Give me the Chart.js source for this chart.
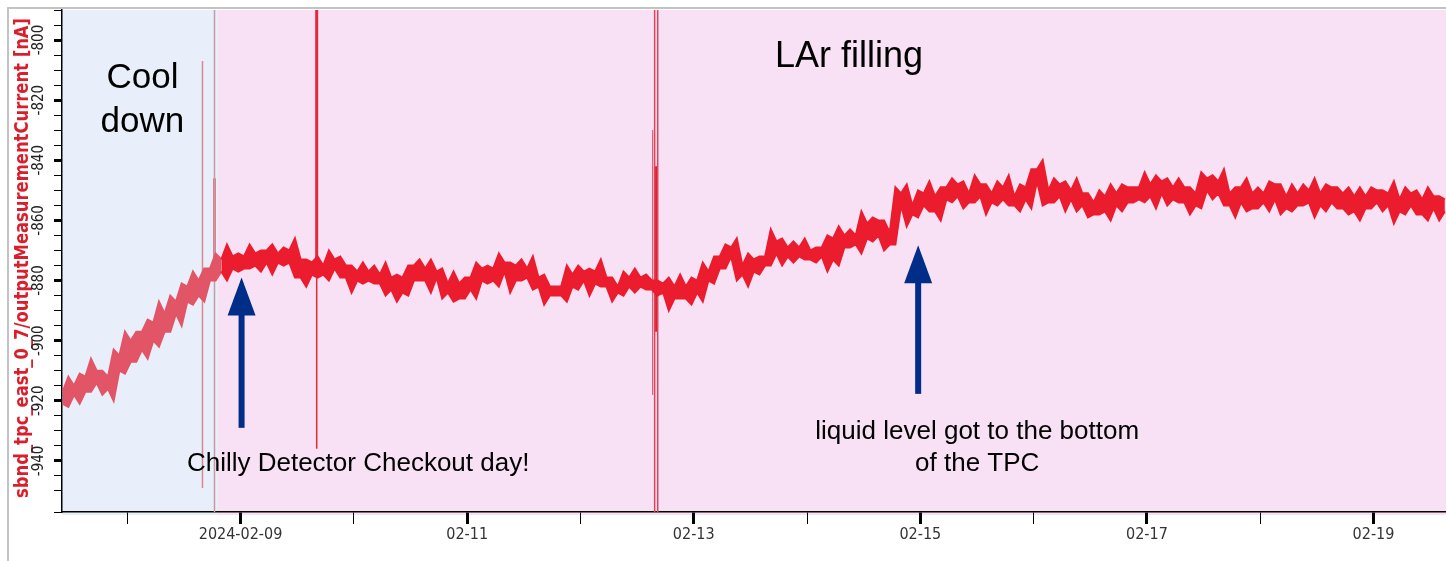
<!DOCTYPE html>
<html>
<head>
<meta charset="utf-8">
<script src="https://cdn.jsdelivr.net/npm/chart.js@4.4.1/dist/chart.umd.min.js"></script>
<style>
  html, body { margin: 0; padding: 0; background: #fff; }
  #wrap { width: 1446px; height: 561px; position: relative; }
</style>
</head>
<body>
<div id="wrap"><canvas id="chart"></canvas></div>
<script>
// x is in days since 2024-02-07 00:00; trace read every 0.05 day
const firstDay = 0.43, halfStep = 0.05;
const coolEnd = 14;          // sample where LAr filling starts
const coolDownEnd = 1.80;    // day where the cool-down shading ends

// solid core of the noisy trace at each sample [nA]
const coreHigh = [
  -917, -915, -912, -910, -912, -905, -900, -897, -894, -891, -887, -882, -880, -876,
  -873, -872, -872, -871, -870, -871, -870, -873, -874, -875, -873, -875, -877, -877,
  -878, -879, -879, -875, -876, -877, -881, -881, -879, -876, -876, -874, -875, -876,
  -879, -882, -882, -878, -877, -877, -879, -882, -879, -879, -880, -881, -882, -882,
  -880, -877, -872, -869, -875, -873, -872, -867, -869, -869, -870, -869, -866, -865,
  -865, -861, -860, -864, -851, -855, -851, -852, -849, -848, -851, -848, -851, -849,
  -852, -849, -843, -850, -848, -850, -851, -854, -852, -851, -849, -849, -848, -847,
  -849, -849, -851, -846, -847, -851, -849, -851, -851, -848, -852, -851, -850, -851,
  -849, -851, -852, -852, -850, -851, -853, -851, -853, -852, -853
];
const coreLow = [
  -921, -918, -917, -914, -916, -910, -907, -903, -900, -897, -891, -887, -885, -880,
  -877, -876, -876, -875, -874, -874, -874, -879, -878, -878, -876, -879, -880, -880,
  -881, -883, -884, -880, -880, -879, -884, -886, -883, -880, -880, -877, -880, -879,
  -882, -885, -885, -882, -880, -881, -882, -884, -882, -882, -883, -884, -886, -886,
  -884, -880, -876, -872, -878, -877, -875, -871, -872, -872, -873, -872, -873, -869,
  -868, -866, -865, -868, -855, -858, -855, -857, -853, -852, -854, -852, -854, -853,
  -855, -853, -847, -854, -852, -853, -855, -858, -857, -855, -854, -853, -852, -851,
  -853, -854, -855, -850, -851, -855, -854, -856, -854, -853, -856, -855, -854, -855,
  -854, -856, -857, -856, -854, -855, -857, -855, -858, -856, -857
];
// noise spikes between samples (upper and lower tips)
const tipHigh = [
  -912, -911, -906, -910, -903, -897, -897, -893, -887, -885, -881, -877, -876, -871,
  -868, -871, -868, -870, -868, -869, -866, -873, -872, -870, -872, -875, -874, -875,
  -874, -878, -875, -873, -873, -876, -877, -879, -874, -875, -871, -874, -873, -872,
  -878, -882, -875, -875, -876, -873, -879, -877, -876, -878, -880, -879, -878, -879,
  -874, -872, -868, -866, -871, -872, -863, -866, -867, -866, -869, -865, -862, -863,
  -857, -859, -860, -849, -848, -850, -847, -849, -846, -847, -845, -848, -847, -845,
  -848, -843, -840, -846, -847, -846, -851, -850, -848, -848, -849, -844, -845, -846,
  -846, -849, -844, -845, -843, -849, -846, -849, -847, -848, -848, -848, -846, -848,
  -849, -849, -849, -849, -850, -847, -849, -850, -849, -852
];
const tipLow = [
  -922, -921, -917, -918, -920, -911, -907, -906, -902, -897, -895, -888, -887, -880,
  -880, -877, -876, -877, -878, -875, -879, -882, -879, -880, -879, -884, -881, -881,
  -885, -887, -885, -880, -884, -886, -887, -886, -886, -881, -882, -884, -880, -883,
  -888, -885, -887, -883, -885, -882, -887, -885, -884, -883, -885, -890, -886, -888,
  -887, -881, -876, -880, -882, -878, -875, -875, -874, -873, -874, -877, -875, -869,
  -871, -867, -870, -868, -862, -859, -857, -860, -854, -856, -854, -858, -855, -855,
  -857, -856, -855, -854, -857, -857, -859, -858, -860, -857, -854, -854, -856, -855,
  -854, -858, -856, -853, -855, -859, -857, -856, -857, -858, -857, -855, -859, -857,
  -856, -858, -860, -856, -857, -861, -858, -858, -860, -860
];

// short glitches: day, top value, bottom value
const spikeDays = [1.664, 1.770, 1.770, 2.672, 2.672, 5.637, 5.655, 5.682, 5.668];
const spikeHigh = [-807, -790, -846, -790, -878, -830, -790, -790, -842];
const spikeLow  = [-949, -957, -880, -878, -936, -918, -957, -957, -897];
const spikeLook = [
  ['#d98791', 1.5], ['#c99aa3', 1.5], ['#e15566', 2.5], ['#e3293b', 3], ['#e3293b', 1.5],
  ['#e4606d', 1], ['#d8485a', 1.5], ['#d8485a', 1.5], ['#eb1c2d', 3]
];

// x ticks (even days labelled)
const xTickDays = [2, 4, 6, 8, 10, 12];
const xTickLabels = ['2024-02-09', '02-11', '02-13', '02-15', '02-17', '02-19'];

// annotations
const arrowDays = [2.009, 7.981];
const arrowTip  = [-879, -868.3];
const arrowTail = [-929, -917.7];
const notes = [
  { lines: ['Cool', 'down'], day: 1.134, values: [-816, -830.7], size: 35 },
  { lines: ['LAr filling'], day: 7.371, values: [-809], size: 36 },
  { lines: ['Chilly Detector Checkout day!'], day: 3.038, values: [-943.3], size: 26 },
  { lines: ['liquid level got to the bottom', 'of the TPC'], day: 8.502, values: [-932.7, -943.3], size: 26 }
];

// weave samples and tips into one edge each
function weave(core, tips) {
  const out = [];
  core.forEach((v, i) => {
    out.push({ x: +(firstDay + 2 * i * halfStep).toFixed(3), y: v });
    if (i < tips.length) out.push({ x: +(firstDay + (2 * i + 1) * halfStep).toFixed(3), y: tips[i] });
  });
  return out;
}
const upperEdge = weave(coreHigh, tipHigh);
const lowerEdge = weave(coreLow, tipLow);
const cut = coolEnd * 2;

const COOL = '#e15566', FILL = '#eb1c2d';
const edge = (data, color, fill) => ({
  data, borderColor: color, backgroundColor: color, borderWidth: 2,
  pointRadius: 0, tension: 0, fill
});

const datasets = [
  edge(upperEdge.slice(cut), FILL, '+1'),
  edge(lowerEdge.slice(cut), FILL, false),
  edge(upperEdge.slice(0, cut + 1), COOL, '+1'),
  edge(lowerEdge.slice(0, cut + 1), COOL, false)
];
spikeDays.forEach((d, i) => {
  datasets.push({
    data: [{ x: d, y: spikeHigh[i] }, { x: d, y: spikeLow[i] }],
    borderColor: spikeLook[i][0], borderWidth: spikeLook[i][1],
    pointRadius: 0, fill: false
  });
});

const decor = {
  id: 'decor',
  beforeDraw(chart) {
    const { ctx, chartArea: a, scales: { x } } = chart;
    const split = x.getPixelForValue(coolDownEnd);
    ctx.save();
    ctx.fillStyle = '#e8eefa';
    ctx.fillRect(a.left, a.top, split - a.left, a.bottom - a.top + 3);
    ctx.fillStyle = '#f9e1f5';
    ctx.fillRect(split, a.top, a.right - split, a.bottom - a.top + 3);
    // outer frame
    ctx.strokeStyle = '#c3c3c3';
    ctx.lineWidth = 2;
    ctx.beginPath();
    ctx.moveTo(8, chart.height); ctx.lineTo(8, 8); ctx.lineTo(chart.width, 8);
    ctx.stroke();
    // y title, rotated and fitted to the axis
    const title = 'sbnd_tpc_east_0_7/outputMeasurementCurrent [nA]';
    ctx.font = 'bold 19px "DejaVu Sans Condensed", "DejaVu Sans", sans-serif';
    const s = 480 / ctx.measureText(title).width;
    ctx.translate(28, 258);
    ctx.rotate(-Math.PI / 2);
    ctx.scale(s, 1);
    ctx.fillStyle = '#d91f2b';
    ctx.textAlign = 'center';
    ctx.textBaseline = 'alphabetic';
    ctx.fillText(title, 0, 0);
    ctx.restore();
  },
  afterDatasetsDraw(chart) {
    const { ctx, scales: { x, y } } = chart;
    ctx.save();
    ctx.fillStyle = '#002d87';
    arrowDays.forEach((d, i) => {
      const px = x.getPixelForValue(d);
      const tip = y.getPixelForValue(arrowTip[i]);
      const tail = y.getPixelForValue(arrowTail[i]);
      const head = tip + 38;
      ctx.fillRect(px - 3, head - 1, 6, tail - head + 1);
      ctx.beginPath();
      ctx.moveTo(px, tip); ctx.lineTo(px + 14, head); ctx.lineTo(px - 14, head);
      ctx.closePath();
      ctx.fill();
    });
    ctx.fillStyle = '#000';
    ctx.textAlign = 'center';
    ctx.textBaseline = 'alphabetic';
    notes.forEach(n => {
      ctx.font = n.size + 'px "Liberation Sans", Arial, sans-serif';
      n.lines.forEach((t, k) => {
        ctx.fillText(t, x.getPixelForValue(n.day), y.getPixelForValue(n.values[k]));
      });
    });
    ctx.restore();
  }
};

new Chart(document.getElementById('chart'), {
  type: 'line',
  data: { datasets },
  plugins: [decor],
  options: {
    responsive: true,
    maintainAspectRatio: false,
    animation: false,
    events: [],
    layout: { padding: { top: 10, left: 0, right: 0, bottom: 0 } },
    plugins: { legend: { display: false }, tooltip: { enabled: false } },
    scales: {
      x: {
        type: 'linear', min: 0.424, max: 12.64,
        border: { color: '#000', width: 1.5 },
        grid: {
          drawOnChartArea: false, tickLength: 12, tickColor: '#000',
          tickWidth: c => (c.tick && c.tick.value % 2 === 0) ? 3 : 1
        },
        ticks: {
          stepSize: 1, includeBounds: false, autoSkip: false,
          maxRotation: 0, minRotation: 0, padding: 1, color: '#333',
          font: { family: '"DejaVu Sans Condensed", "DejaVu Sans", sans-serif', size: 16 },
          callback: v => {
            const k = xTickDays.indexOf(v);
            return k >= 0 ? xTickLabels[k] : '';
          }
        },
        afterFit: s => { s.height = 49; }
      },
      y: {
        type: 'linear', min: -957, max: -790,
        border: { color: '#000', width: 1.5 },
        grid: {
          drawOnChartArea: false, tickLength: 8, tickColor: '#000',
          tickWidth: c => (c.tick && c.tick.value % 20 === 0) ? 3 : 1
        },
        ticks: {
          stepSize: 5, autoSkip: false, minRotation: 90, maxRotation: 90,
          crossAlign: 'center', padding: 0, color: '#222',
          font: { family: '"Liberation Sans Narrow", "DejaVu Sans Condensed", sans-serif', size: 15 },
          callback: v => v % 20 === 0 ? String(v) : ''
        },
        afterFit: s => { s.width = 62; }
      }
    }
  }
});
</script>
</body>
</html>
